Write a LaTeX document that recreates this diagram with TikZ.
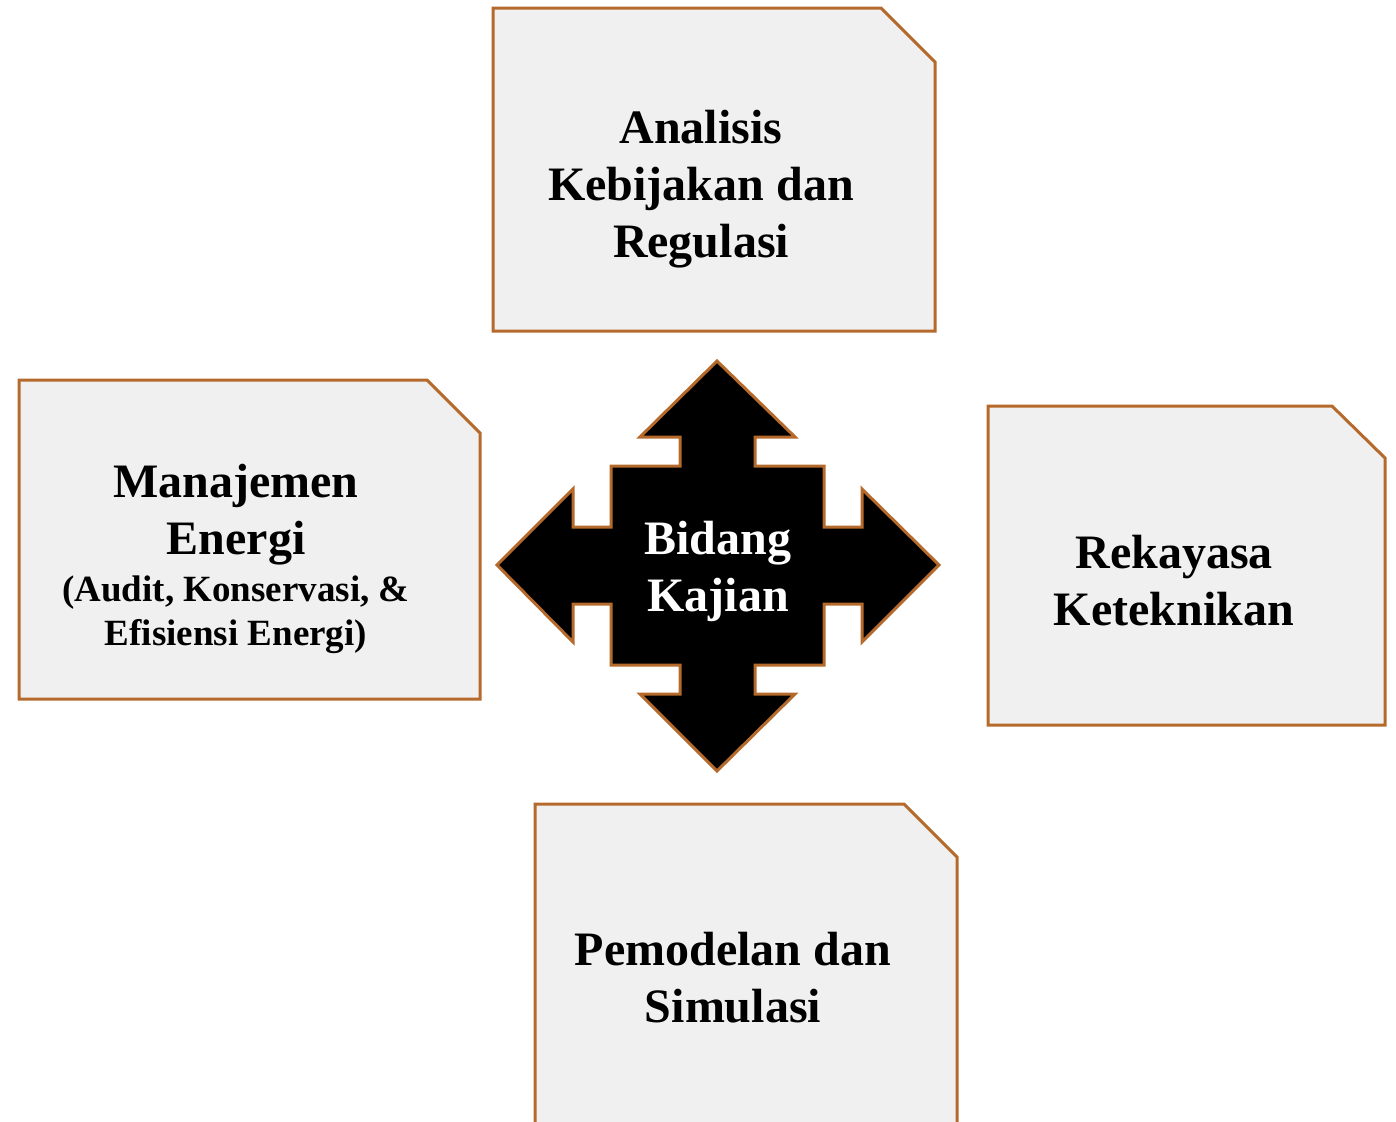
\documentclass[tikz,border=0pt]{standalone}
\usepackage{fontspec}
\setmainfont{Liberation Serif}
\definecolor{edgebrown}{RGB}{181,106,43}
\definecolor{boxfill}{RGB}{240,240,240}
\begin{document}
\begin{tikzpicture}[x=0.5pt,y=-0.5pt,
  card/.style={draw=edgebrown,fill=boxfill,line width=1.5pt,line join=miter},
  hub/.style={draw=edgebrown,fill=black,line width=1.5pt,line join=miter},
  bigtext/.style={inner sep=0pt,align=center,font=\bfseries\fontsize{24}{28.5}\selectfont},
  smalltext/.style={inner sep=0pt,align=center,font=\bfseries\fontsize{18.5}{22}\selectfont}]
\useasboundingbox (0,0) rectangle (1396,1121);
% top card
\draw[card] (493,8) -- (881,8) -- (935,62) -- (935,331) -- (493,331) -- cycle;
% left card
\draw[card] (19,380) -- (427,380) -- (480,433) -- (480,699) -- (19,699) -- cycle;
% right card
\draw[card] (988,406) -- (1332,406) -- (1385,458) -- (1385,725) -- (988,725) -- cycle;
% bottom card
\draw[card] (535,804) -- (904,804) -- (957,857) -- (957,1140) -- (535,1140) -- cycle;
% central four-way arrow
\draw[hub] (717,361) -- (795,437) -- (755,437) -- (755,466) -- (824,466) -- (824,527)
  -- (862,527) -- (862,489) -- (939,565) -- (862,642) -- (862,604) -- (824,604)
  -- (824,665) -- (755,665) -- (755,694) -- (795,694) -- (717,771) -- (640,694)
  -- (680,694) -- (680,665) -- (611,665) -- (611,604) -- (573,604) -- (573,642)
  -- (497,565) -- (573,489) -- (573,527) -- (611,527) -- (611,466) -- (680,466)
  -- (680,437) -- (640,437) -- cycle;
% texts
\node[bigtext] (analisis) at (701,189) {Analisis\\Kebijakan dan\\Regulasi};
\node[bigtext] (manajemen) at (236,515) {Manajemen\\Energi};
\node[smalltext] (audit) at (236,615) {(Audit, Konservasi, \&\\Efisiensi Energi)};
\node[bigtext] (rekayasa) at (1174,581) {Rekayasa\\Keteknikan};
\node[bigtext] (pemodelan) at (733,978) {Pemodelan dan\\Simulasi};
\node[bigtext,text=white] (bidang) at (718,571) {Bidang\\Kajian};
\end{tikzpicture}
\end{document}
